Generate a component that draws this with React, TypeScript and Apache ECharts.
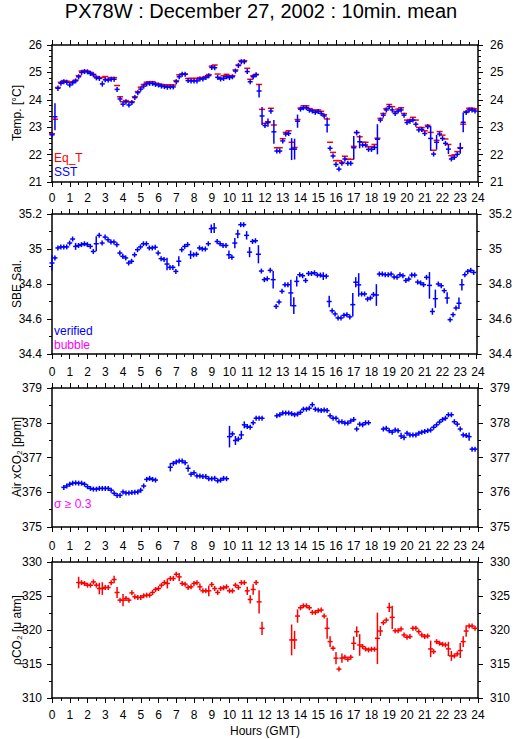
import React, { useEffect, useRef } from 'react';
import * as echarts from 'echarts';

// ---- data: one value per 10-minute slot (slot i -> hour i/6), null = no data ----
const sstVal: (number | null)[] = [
  22.72, 23.38, 24.42, 24.60, 24.66, 24.64, 24.54, 24.62, 24.69, 24.84, 25.00, 25.03,
  25.02, 24.96, 24.91, 24.80, 24.78, 24.58, 24.73, 24.72, 24.75, 24.75, 24.38, 24.03,
  23.84, 23.93, 23.81, 23.90, 24.08, 24.26, 24.39, 24.50, 24.58, 24.60, 24.60, 24.56,
  24.54, 24.50, 24.48, 24.46, 24.47, 24.47, 24.66, 24.84, 24.93, 24.93, 24.70, 24.69,
  24.69, 24.69, 24.76, 24.76, 24.81, 24.88, 25.18, 25.17, 24.82, 24.76, 24.78, 24.84,
  24.81, 24.84, 25.05, 25.25, 25.39, 25.39, 25.03, 24.66, 24.84, 24.91, 24.32, 23.41,
  23.06, 23.17, 23.59, 22.83, 22.13, 22.13, 22.50, 22.75, 22.77, 22.20, 22.20, 23.22,
  23.66, 23.71, 23.71, 23.62, 23.59, 23.54, 23.57, 23.50, 23.41, 23.08, 22.23, 21.95,
  21.64, 21.47, 21.68, 21.84, 21.68, 21.68, 22.25, 22.80, 22.47, 22.35, 22.35, 22.19,
  22.19, 22.26, 22.56, 23.26, 23.44, 23.63, 23.75, 23.63, 23.50, 23.59, 23.63, 23.44,
  23.17, 23.22, 23.26, 23.11, 22.90, 22.92, 22.77, 23.02, 22.59, 22.02, 22.45, 22.75,
  22.59, 22.41, 22.20, 21.84, 21.90, 22.01, 22.23, 23.18, 23.54, 23.63, 23.63, 23.59,
];
const sstErr: [number, number][] = [
  [1, 0.49], [2, 0.1], [6, 0.07], [9, 0.07], [17, 0.1], [22, 0.08], [51, 0.08], [54, 0.08],
  [66, 0.07], [70, 0.24], [71, 0.33], [73, 0.15], [74, 0.1], [75, 0.43], [81, 0.4], [82, 0.38],
  [83, 0.24], [93, 0.27], [94, 0.08], [97, 0.08], [102, 0.43], [103, 0.1], [104, 0.24],
  [110, 0.55], [111, 0.07], [128, 0.45], [129, 0.05], [130, 0.27], [134, 0.18], [138, 0.2], [139, 0.36],
];
const eqtVal: (number | null)[] = [
  22.76, 23.29, 24.45, 24.64, 24.70, 24.68, 24.63, 24.66, 24.72, 24.88, 25.05, 25.07,
  25.05, 25.00, 24.93, 24.85, 24.81, 24.81, 24.85, 24.75, 24.81, 24.81, 24.52, 24.11,
  23.93, 23.97, 23.93, 23.93, 24.11, 24.30, 24.46, 24.56, 24.64, 24.66, 24.66, 24.60,
  24.58, 24.56, 24.54, 24.54, 24.54, 24.54, 24.70, 24.91, 24.94, 24.94, 24.78, 24.78,
  24.78, 24.78, 24.81, 24.81, 24.85, 24.92, 25.23, 25.27, 24.94, 24.78, 24.88, 24.93,
  24.88, 24.88, 25.09, 25.27, 25.43, 25.43, 25.15, 24.75, 24.88, 24.93, 24.56, 23.65,
  23.14, 23.20, 23.69, 23.08, 22.25, 22.25, 22.58, 22.81, 22.87, 22.45, 22.26, 23.28,
  23.70, 23.78, 23.78, 23.68, 23.63, 23.62, 23.63, 23.58, 23.46, 23.30, 22.45, 22.08,
  21.78, 21.78, 21.72, 21.94, 21.83, 21.83, 22.30, 22.81, 22.65, 22.45, 22.45, 22.29,
  22.29, 22.37, 22.60, 23.32, 23.50, 23.68, 23.83, 23.75, 23.56, 23.66, 23.71, 23.50,
  23.26, 23.28, 23.36, 23.26, 22.99, 22.99, 22.87, 23.07, 22.81, 22.16, 22.52, 22.84,
  22.71, 22.57, 22.37, 21.96, 21.99, 22.11, 22.25, 23.11, 23.57, 23.69, 23.69, 23.67,
];
const salVal: (number | null)[] = [
  34.920, 34.949, 35.006, 35.012, 35.012, 35.012, 35.034, 35.057, 35.015, 35.020, 35.025, 35.030,
  35.025, 35.015, 34.986, 35.030, 35.078, 35.034, 35.068, 35.053, 35.040, 35.040, 35.025, 34.977,
  34.958, 34.949, 34.920, 34.930, 34.967, 34.996, 35.012, 35.030, 35.030, 35.006, 35.006, 35.010,
  34.977, 34.945, 34.940, 34.914, 34.895, 34.895, 34.872, 34.930, 34.996, 35.015, 35.025, 34.967,
  34.967, 34.970, 35.006, 35.000, 35.000, 35.030, 35.116, 35.120, 35.043, 35.030, 35.020, 35.020,
  34.967, 34.953, 35.034, 35.086, 35.139, 35.139, 35.078, 34.982, 35.043, 35.047, 34.970, 34.874,
  34.825, 34.830, 34.878, 34.825, 34.672, 34.697, 34.758, 34.796, 34.796, 34.749, 34.676, 34.815,
  34.853, 34.847, 34.820, 34.860, 34.860, 34.864, 34.851, 34.851, 34.845, 34.845, 34.700, 34.647,
  34.629, 34.606, 34.606, 34.621, 34.625, 34.612, 34.682, 34.810, 34.795, 34.743, 34.743, 34.714,
  34.720, 34.740, 34.737, 34.857, 34.857, 34.853, 34.853, 34.857, 34.840, 34.838, 34.853, 34.847,
  34.820, 34.828, 34.851, 34.851, 34.811, 34.806, 34.796, 34.838, 34.792, 34.643, 34.716, 34.800,
  34.790, 34.762, 34.720, 34.596, 34.625, 34.663, 34.690, 34.796, 34.853, 34.872, 34.878, 34.866,
];
const salErr: [number, number][] = [
  [0, 0.044], [8, 0.02], [15, 0.043], [39, 0.036], [43, 0.029], [47, 0.024], [54, 0.024], [55, 0.029],
  [60, 0.024], [62, 0.029], [63, 0.024], [66, 0.024], [67, 0.029], [70, 0.052], [75, 0.05], [81, 0.076],
  [82, 0.048], [83, 0.029], [92, 0.022], [94, 0.033], [102, 0.067], [103, 0.029], [104, 0.067],
  [110, 0.062], [128, 0.076], [129, 0.019], [130, 0.052], [134, 0.033], [138, 0.033], [139, 0.033],
];
const airVal: (number | null)[] = [
  null, null, null, null, 376.14, 376.18, 376.23, 376.26, 376.27, 376.26, 376.26, 376.23,
  376.16, 376.11, 376.09, 376.09, 376.11, 376.11, 376.11, 376.11, 376.06, 375.97, 375.91, 375.91,
  376.01, 375.98, 375.98, 375.99, 376.00, 376.01, 376.06, 376.18, 376.37, 376.40, 376.37, 376.35,
  null, null, null, null, 376.72, 376.83, 376.87, 376.90, 376.90, 376.85, 376.69, 376.52,
  376.56, 376.47, 376.47, 376.45, 376.45, 376.39, 376.39, 376.40, 376.33, 376.35, 376.40, 376.39,
  377.60, 377.68, 377.49, 377.53, 377.65, 377.94, 377.89, 377.87, 378.00, 378.13, 378.13, 378.13,
  null, null, null, null, 378.20, 378.23, 378.28, 378.28, 378.28, 378.26, 378.23, 378.25,
  378.30, 378.39, 378.39, 378.42, 378.52, 378.39, 378.37, 378.35, 378.37, 378.35, 378.20, 378.13,
  378.13, 378.03, 378.03, 377.99, 377.99, 378.05, 378.09, 377.82, 377.96, 377.94, 378.00, 378.00,
  null, null, null, null, 377.82, 377.84, 377.77, 377.73, 377.79, 377.77, 377.62, 377.58,
  377.70, 377.65, 377.65, 377.65, 377.70, 377.73, 377.75, 377.77, 377.79, 377.87, 377.94, 378.02,
  378.09, 378.13, 378.23, 378.23, 378.03, 377.96, 377.82, 377.65, 377.63, 377.60, 377.24, 377.24,
];
const airErr: [number, number][] = [
  [31, 0.07], [40, 0.12], [46, 0.1], [60, 0.31], [62, 0.13], [64, 0.12], [65, 0.1],
  [103, 0.06], [118, 0.09], [119, 0.08], [141, 0.12], [142, 0.06],
];
const pco2Val: (number | null)[] = [
  null, null, null, null, null, null, null, null, null, 326.98, 326.96, 326.84,
  326.59, 326.59, 327.07, 326.59, 326.10, 326.10, 326.25, 326.25, 326.96, 327.42, 325.52, 324.39,
  324.39, 324.64, 324.39, 325.46, 324.88, 324.79, 324.79, 325.03, 325.12, 325.12, 325.52, 325.96,
  326.10, 326.59, 326.98, 326.84, 327.57, 327.57, 328.20, 327.81, 326.84, 326.74, 326.25, 326.35,
  326.84, 326.96, 326.35, 325.76, 325.76, 325.76, 326.69, 326.10, 325.52, 326.10, 326.20, 326.35,
  325.76, 325.76, 326.59, 326.25, 326.96, 326.96, 325.76, 324.49, 325.96, 326.98, 324.14, 320.25,
  null, null, null, null, null, null, null, null, null, 318.54, 318.54, 322.05,
  323.27, 323.56, 323.56, 323.27, 322.59, 322.59, 322.83, 322.93, 322.05, 320.25, 318.29, 317.32,
  315.86, 314.25, 315.86, 316.00, 315.70, 316.00, 318.05, 319.75, 317.80, 317.56, 317.22, 317.07,
  317.17, 317.17, 318.78, 319.85, 321.07, 321.46, 323.32, 321.86, 319.90, 319.90, 320.15, 319.27,
  318.93, 319.03, 320.25, 320.25, 319.76, 319.27, 319.03, 319.12, 317.22, 316.82, 318.29, 318.05,
  317.90, 317.80, 317.22, 316.19, 316.19, 316.49, 316.97, 318.29, 319.85, 320.59, 320.59, 320.25,
];
const pco2Err: [number, number][] = [
  [9, 0.85], [16, 0.85], [17, 0.93], [21, 0.54], [22, 0.8], [24, 0.9], [39, 0.73], [43, 0.59],
  [50, 0.49], [53, 0.8], [66, 0.61], [67, 0.61], [68, 0.78], [70, 1.7], [71, 0.98],
  [81, 2.27], [82, 1.34], [83, 0.98], [93, 1.54], [94, 0.78], [96, 0.9], [98, 0.68], [102, 0.98],
  [103, 0.78], [104, 1.59], [110, 3.78], [111, 0.73], [114, 0.68], [115, 1.7], [128, 1.22],
  [134, 1.05], [135, 0.73], [138, 1.1], [139, 0.78], [140, 0.85],
];

const hourTicks = [0, 24];
const tempRange = [21, 26];
const salRange = [34.4, 35.2];
const airRange = [375, 379];
const pco2Range = [310, 330];

const title = 'PX78W : December 27, 2002 : 10min. mean';

const FONT = '"Liberation Sans", Arial, Helvetica, sans-serif';
const BLUE = '#0000ff';
const RED = '#ff0000';
const MAGENTA = '#ff00ff';

function toPoints(vals: (number | null)[], errs: [number, number][]) {
  const em = new Map(errs.map(([s, e]) => [s, e]));
  const out: number[][] = [];
  vals.forEach((v, i) => {
    if (v === null) return;
    out.push([i / 6, v, em.get(i) ?? 0]);
  });
  return out;
}

function makeRender(color: string, vert: boolean, halfW: number) {
  return (params: any, api: any) => {
    const h = api.value(0);
    const v = api.value(1);
    const e = api.value(2);
    const c = api.coord([h, v]);
    const hi = api.coord([h, v + e]);
    const lo = api.coord([h, v - e]);
    const children: any[] = [
      {
        type: 'line',
        shape: { x1: c[0] - halfW, y1: c[1], x2: c[0] + halfW, y2: c[1] },
        style: { stroke: color, lineWidth: 1.5 },
      },
    ];
    if (vert) {
      const top = Math.min(hi[1], c[1] - 2.5);
      const bot = Math.max(lo[1], c[1] + 2.5);
      children.push({
        type: 'line',
        shape: { x1: c[0], y1: top, x2: c[0], y2: bot },
        style: { stroke: color, lineWidth: 1.5 },
      });
    }
    return { type: 'group', children };
  };
}

const grids = [
  { left: 52, right: 37, top: 45, height: 137 },
  { left: 52, right: 37, top: 214, height: 140 },
  { left: 52, right: 37, top: 388, height: 139 },
  { left: 52, right: 37, top: 562, height: 136 },
];

export default function App() {
  const ref = useRef<HTMLDivElement>(null);
  useEffect(() => {
    if (!ref.current) return;
    const chart = echarts.init(ref.current, undefined, { renderer: 'svg' });
    const axisLine = { onZero: false, lineStyle: { color: '#000', width: 1.5 } };
    const labelStyle = { color: '#000', fontFamily: FONT, fontSize: 12 };

    const xAxes: any[] = [];
    grids.forEach((_, g) => {
      const common = {
        gridIndex: g,
        type: 'value',
        min: hourTicks[0],
        max: hourTicks[1],
        interval: 1,
        axisLine,
        axisTick: { show: true, length: 5, lineStyle: { color: '#000', width: 1 } },
        minorTick: { show: true, splitNumber: 2, length: 3, lineStyle: { color: '#000', width: 1 } },
        splitLine: { show: false },
      };
      xAxes.push({
        ...common,
        position: 'bottom',
        axisLabel: { show: g === 0 || g === 3, margin: g === 3 ? 11 : 10, ...labelStyle },
      });
      xAxes.push({
        ...common,
        position: 'top',
        axisLabel: { show: g === 2 || g === 3, margin: 10, ...labelStyle },
      });
    });

    const yDefs = [
      { range: tempRange, interval: 1, minor: 5 },
      { range: salRange, interval: 0.2, minor: 2 },
      { range: airRange, interval: 1, minor: 2 },
      { range: pco2Range, interval: 5, minor: 2 },
    ];
    const yAxes: any[] = [];
    yDefs.forEach((d, g) => {
      ['left', 'right'].forEach((pos) => {
        yAxes.push({
          gridIndex: g,
          type: 'value',
          position: pos,
          min: d.range[0],
          max: d.range[1],
          interval: d.interval,
          axisLine,
          axisTick: { show: true, length: 5, lineStyle: { color: '#000', width: 1 } },
          minorTick: { show: true, splitNumber: d.minor, length: 3, lineStyle: { color: '#000', width: 1 } },
          splitLine: { show: false },
          axisLabel: { margin: pos === 'left' ? 10 : 12, ...labelStyle },
        });
      });
    });

    const mk = (name: string, g: number, data: number[][], color: string, vert: boolean, halfW = 2.5) => ({
      name,
      type: 'custom',
      xAxisIndex: g * 2,
      yAxisIndex: g * 2,
      clip: false,
      encode: { x: 0, y: 1 },
      data,
      renderItem: makeRender(color, vert, halfW),
    });

    const series = [
      mk('Eq_T', 0, toPoints(eqtVal, []), RED, false, 3),
      mk('SST', 0, toPoints(sstVal, sstErr), BLUE, true),
      mk('SBE Sal.', 1, toPoints(salVal, salErr), BLUE, true),
      mk('Air xCO2', 2, toPoints(airVal, airErr), BLUE, true),
      mk('pCO2', 3, toPoints(pco2Val, pco2Err), RED, true),
    ];

    const txt = (text: string, x: number, y: number, color: string) => ({
      type: 'text',
      x,
      y,
      style: { text, fill: color, font: `12px ${FONT}`, textAlign: 'left', textVerticalAlign: 'middle' },
    });
    const vlabel = (text: string, y: number) => ({
      type: 'text',
      x: 17,
      y,
      rotation: Math.PI / 2,
      style: { text, fill: '#000', font: `12px ${FONT}`, textAlign: 'center', textVerticalAlign: 'middle' },
    });

    chart.setOption({
      animation: false,
      backgroundColor: '#fff',
      grid: grids.map((g) => ({ ...g, containLabel: false })),
      xAxis: xAxes,
      yAxis: yAxes,
      series,
      graphic: [
        {
          type: 'text',
          x: 261,
          y: 11,
          style: { text: title, fill: '#000', font: `20px ${FONT}`, textAlign: 'center', textVerticalAlign: 'middle' },
        },
        vlabel('Temp. [°C]', 113),
        vlabel('SBE Sal.', 284),
        vlabel('Air xCO₂ [ppm]', 457),
        vlabel('ρCO₂ [μ atm]', 630),
        txt('Eq_T', 54, 158, RED),
        txt('SST', 54, 172, BLUE),
        txt('verified', 54, 331, BLUE),
        txt('bubble', 54, 345, MAGENTA),
        txt('σ ≥ 0.3', 54, 504, MAGENTA),
        {
          type: 'text',
          x: 265,
          y: 731,
          style: { text: 'Hours (GMT)', fill: '#000', font: `12px ${FONT}`, textAlign: 'center', textVerticalAlign: 'middle' },
        },
      ],
    });
    return () => chart.dispose();
  }, []);
  return <div ref={ref} style={{ position: 'absolute', left: 0, top: 0, width: 515, height: 739 }} />;
}
